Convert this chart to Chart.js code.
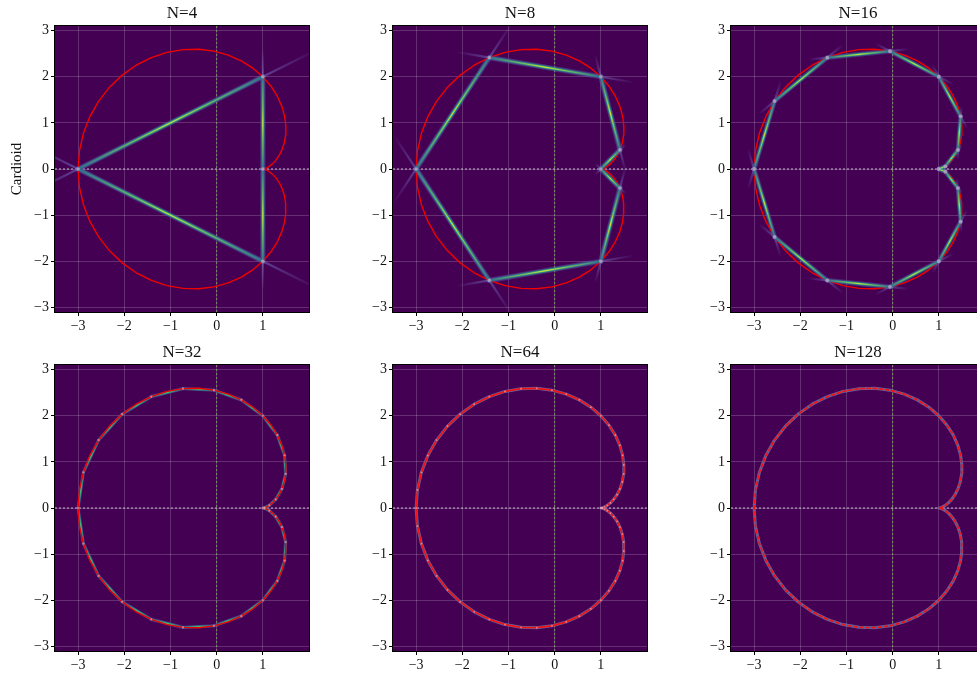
<!DOCTYPE html>
<html>
<head>
<meta charset="utf-8">
<script src="https://cdn.jsdelivr.net/npm/chart.js@4.4.1/dist/chart.umd.min.js"></script>
<style>
  html, body { margin: 0; padding: 0; background: #fff; width: 977px; height: 674px; overflow: hidden; position: relative; }
  canvas { position: absolute; }
</style>
</head>
<body>
<script>
// upper half of the cardioid, 64 samples around the whole curve (k = 0..32), from the cusp at (1, 0)
const halfX = [1.000, 1.010, 1.038, 1.082, 1.141, 1.208, 1.280, 1.351, 1.414, 1.464, 1.494, 1.498, 1.472, 1.412, 1.314, 1.177,
               1.000, 0.785, 0.534, 0.251, -0.058, -0.387, -0.728, -1.074, -1.414, -1.741, -2.046, -2.319, -2.555, -2.745, -2.885, -2.971, -3.000];
const halfY = [0.000, 0.001, 0.007, 0.025, 0.058, 0.111, 0.187, 0.288, 0.414, 0.565, 0.739, 0.932, 1.141, 1.358, 1.579, 1.795,
               2.000, 2.185, 2.344, 2.469, 2.555, 2.595, 2.587, 2.527, 2.414, 2.250, 2.035, 1.774, 1.472, 1.136, 0.773, 0.391, 0.000];
const sampleCounts = [4, 8, 16, 32, 64, 128];
const xTicks = [-3, -2, -1, 0, 1];
const yTicks = [-3, -2, -1, 0, 1, 2, 3];
const xRange = [-3.5, 2.0];
const yRange = [-3.1, 3.1];

const SAMPLES = 64;
const panelLeft = [0, 338, 676];
const panelTop = [0, 339];
const canvasW = 319, canvasH = 346;
const serif = '"Liberation Serif", "DejaVu Serif", serif';

function curvePoint(k) {
    k = k % SAMPLES;
    return k <= SAMPLES / 2 ? {x: halfX[k], y: halfY[k]} : {x: halfX[SAMPLES - k], y: -halfY[SAMPLES - k]};
}

// closed path through every SAMPLES/n-th sample
function polygon(n) {
    const step = Math.max(1, SAMPLES / n);
    const pts = [];
    for (let k = 0; k <= SAMPLES; k += step) pts.push(curvePoint(k));
    return pts;
}

const cardioid = polygon(SAMPLES);

function fmt(v) {
    return v < 0 ? '\u2212' + Math.abs(v) : String(v);
}

// colour that runs along the segment a -> b
function along(a, b, stops) {
    return ctx => {
        const {x, y} = ctx.chart.scales;
        if (!x || !y) return stops[0][1];
        const c = [x.getPixelForValue(a.x), y.getPixelForValue(a.y), x.getPixelForValue(b.x), y.getPixelForValue(b.y)];
        if (!c.every(Number.isFinite)) return stops[0][1];
        const g = ctx.chart.ctx.createLinearGradient(c[0], c[1], c[2], c[3]);
        stops.forEach(s => g.addColorStop(s[0], s[1]));
        return g;
    };
}

function styleFor(n) {
    if (n <= 8) return {halo: 5.2, mid: 3.2, inner: 1.7, core: 0.9, ext: 0.3, vertex: 1.8};
    if (n <= 16) return {halo: 4.6, mid: 2.9, inner: 1.5, core: 0.8, ext: 0.3, vertex: 1.9};
    if (n <= 32) return {halo: 3.2, mid: 2.3, inner: 1.0, core: 0, ext: 0, vertex: 1.1};
    return {band: 3.0};
}

function buildDatasets(n) {
    const sets = [];
    const line = (data, width, color, order, extra) => sets.push(Object.assign({
        data, showLine: true, pointRadius: 0, borderWidth: width, borderColor: color,
        order, clip: 0, borderCapStyle: 'round', borderJoinStyle: 'round'
    }, extra || {}));

    // dotted axes through the origin
    line([{x: 0, y: yRange[0]}, {x: 0, y: yRange[1]}], 1.1, 'rgba(120,150,90,0.9)', 100, {borderDash: [2, 2], borderCapStyle: 'butt'});
    line([{x: xRange[0], y: 0}, {x: xRange[1], y: 0}], 1.1, 'rgba(205,200,212,0.85)', 100, {borderDash: [2, 2], borderCapStyle: 'butt'});

    const poly = polygon(n);
    const st = styleFor(n);

    if (st.band) {
        line(poly, st.band, 'rgba(104,114,176,0.85)', 80);
        line(cardioid, 1.7, '#f21212', 50, n >= 128 ? {borderDash: [4.6, 1.5], borderCapStyle: 'butt'} : {});
        if (n < 128) {
            sets.push({data: poly.slice(0, -1), showLine: false, pointRadius: 0.9, pointBorderWidth: 0,
                       pointBackgroundColor: 'rgba(230,180,212,0.7)', order: 40, clip: 0});
        }
        return sets;
    }

    const lav = a => 'rgba(120,112,195,' + a + ')';
    for (let i = 0; i < poly.length - 1; i++) {
        const a = poly[i], b = poly[i + 1];
        if (st.ext) {
            const dx = (b.x - a.x) * st.ext, dy = (b.y - a.y) * st.ext;
            const aExt = {x: a.x - dx, y: a.y - dy}, bExt = {x: b.x + dx, y: b.y + dy};
            line([aExt, a], 2.2, along(aExt, a, [[0, lav(0)], [1, lav(0.55)]]), 95);
            line([b, bExt], 2.2, along(b, bExt, [[0, lav(0.55)], [1, lav(0)]]), 95);
        }
        line([a, b], st.halo, along(a, b, [[0, 'rgba(95,100,175,0.4)'], [0.5, 'rgba(70,100,160,0.5)'], [1, 'rgba(95,100,175,0.4)']]), 90);
        line([a, b], st.mid, along(a, b, [[0, '#44598f'], [0.5, '#23888d'], [1, '#44598f']]), 80);
        line([a, b], st.inner, along(a, b, [[0, '#2c728e'], [0.5, '#4fbf6c'], [1, '#2c728e']]), 70);
        if (st.core) {
            line([a, b], st.core, along(a, b, [[0, 'rgba(253,231,37,0)'], [0.3, 'rgba(190,222,45,0.5)'], [0.5, '#f2e52a'], [0.7, 'rgba(190,222,45,0.5)'], [1, 'rgba(253,231,37,0)']]), 60);
        }
    }
    line(cardioid, 1.4, '#f00000', n <= 16 ? 85 : 50);
    sets.push({data: poly.slice(0, -1), showLine: false, pointRadius: st.vertex, pointBorderWidth: 0,
               pointBackgroundColor: 'rgba(236,186,216,0.6)', order: 40, clip: 0});
    return sets;
}

const frame = {
    id: 'frame',
    beforeDraw(chart) {
        const {ctx, chartArea: a} = chart;
        ctx.save();
        ctx.fillStyle = '#440154';
        ctx.fillRect(a.left, a.top, a.right - a.left, a.bottom - a.top);
        ctx.restore();
    },
    afterDraw(chart, args, opts) {
        const {ctx, chartArea: a} = chart;
        ctx.save();
        ctx.strokeStyle = '#000';
        ctx.lineWidth = 1;
        ctx.strokeRect(a.left - 0.5, a.top - 0.5, a.right - a.left + 1, a.bottom - a.top + 1);
        ctx.fillStyle = '#111';
        ctx.font = '17px ' + serif;
        ctx.textAlign = 'center';
        ctx.textBaseline = 'alphabetic';
        ctx.fillText(opts.text, (a.left + a.right) / 2, a.top - 8);
        ctx.restore();
    }
};

function axis(range, ticks, vertical, showTitle) {
    return {
        type: 'linear',
        min: range[0],
        max: range[1],
        afterBuildTicks: s => { s.ticks = ticks.map(v => ({value: v})); },
        afterFit: s => { if (vertical) s.width = 55; else s.height = 34; },
        ticks: {font: {family: serif, size: 14}, color: '#111', padding: 2, autoSkip: false, maxRotation: 0, callback: v => fmt(v)},
        grid: {color: 'rgba(255,255,255,0.18)', tickColor: '#000', tickLength: 4, lineWidth: 1},
        border: {display: false},
        title: {display: showTitle, text: 'Cardioid', color: '#111', font: {family: serif, size: 15}, padding: {top: 8, bottom: 0}}
    };
}

sampleCounts.forEach((n, i) => {
    const canvas = document.createElement('canvas');
    canvas.width = canvasW;
    canvas.height = canvasH;
    canvas.style.left = panelLeft[i % 3] + 'px';
    canvas.style.top = panelTop[Math.floor(i / 3)] + 'px';
    document.body.appendChild(canvas);

    new Chart(canvas, {
        type: 'scatter',
        data: {datasets: buildDatasets(n)},
        options: {
            responsive: false,
            animation: false,
            devicePixelRatio: 1,
            layout: {padding: {top: 26, right: 10, left: 0, bottom: 0}},
            scales: {
                x: axis(xRange, xTicks, false, false),
                y: axis(yRange, yTicks, true, i === 0)
            },
            plugins: {
                legend: {display: false},
                tooltip: {enabled: false},
                frame: {text: 'N=' + n}
            }
        },
        plugins: [frame]
    });
});
</script>
</body>
</html>
